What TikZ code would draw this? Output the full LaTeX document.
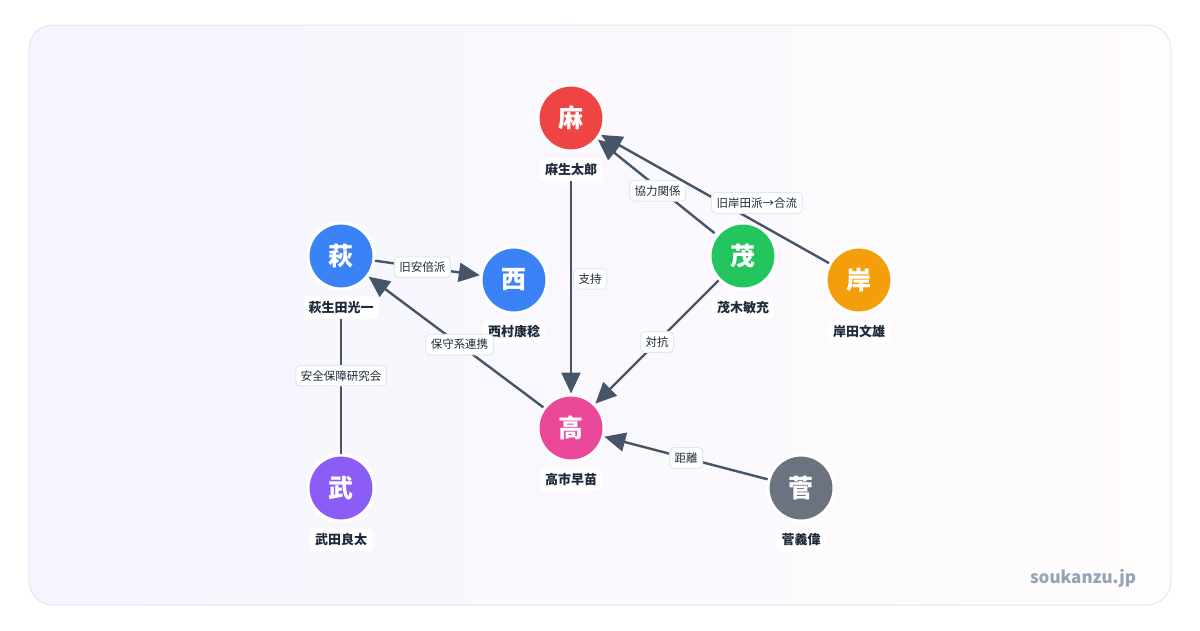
\documentclass[tikz,border=0pt]{standalone}
\usepackage{fontspec}
\setmainfont{Noto Sans CJK JP}
\usepackage{xcolor}
\usetikzlibrary{arrows.meta, positioning, calc, backgrounds}
\definecolor{edgec}{HTML}{475569}
\definecolor{cRed}{HTML}{EF4444}
\definecolor{cBlue}{HTML}{3B82F6}
\definecolor{cGreen}{HTML}{22C55E}
\definecolor{cOrange}{HTML}{F59E0B}
\definecolor{cPink}{HTML}{EC4899}
\definecolor{cPurple}{HTML}{8B5CF6}
\definecolor{cGray}{HTML}{6B7280}
\definecolor{slateB}{HTML}{E2E8F0}
\definecolor{slateT}{HTML}{94A3B8}
\definecolor{inkT}{HTML}{1E293B}
\begin{document}
\begin{tikzpicture}[
    x=1pt, y=-1pt,
    person/.style={circle, draw=white, line width=3pt, minimum size=66pt, inner sep=0pt, text=white, font=\fontsize{25}{27}\selectfont\bfseries},
    pname/.style={fill=white, rounded corners=4pt, inner sep=5pt, font=\fontsize{13}{15}\selectfont\bfseries, text=inkT},
    rel/.style={fill=white, draw=slateB, line width=1pt, rounded corners=4pt, inner sep=5pt, font=\fontsize{11.5}{13}\selectfont, text=inkT},
    arrow/.style={-{Triangle[length=21pt, width=19pt]}, line width=2.4pt, draw=edgec},
    link/.style={line width=2.4pt, draw=edgec}
]
    % background card
    \useasboundingbox (0,0) rectangle (1200,630);
    \fill[white] (0,0) rectangle (1200,630);
    \shade[rounded corners=24pt, left color=blue!4, right color=pink!5] (29,25) rectangle (1171,605);
    \draw[rounded corners=24pt, slateB, line width=1pt] (29,25) rectangle (1171,605);
    \node[font=\fontsize{17}{19}\selectfont\bfseries, text=slateT] (site) at (1083,578) {soukanzu.jp};

    % people
    \node[person, fill=cRed] (aso) at (571,118) {麻};
    \node[person, fill=cBlue] (hagiuda) at (341,256) {萩};
    \node[person, fill=cBlue] (nishimura) at (514,280) {西};
    \node[person, fill=cGreen] (motegi) at (743,256) {茂};
    \node[person, fill=cOrange] (kishida) at (859,280) {岸};
    \node[person, fill=cPink] (takaichi) at (571,428) {高};
    \node[person, fill=cPurple] (takeda) at (341,488) {武};
    \node[person, fill=cGray] (suga) at (801,488) {菅};

    % names
    \node[pname, below=6pt of aso] (aso_n) {麻生太郎};
    \node[pname, below=6pt of hagiuda] (hagiuda_n) {萩生田光一};
    \node[pname, below=6pt of nishimura] (nishimura_n) {西村康稔};
    \node[pname, below=6pt of motegi] (motegi_n) {茂木敏充};
    \node[pname, below=6pt of kishida] (kishida_n) {岸田文雄};
    \node[pname, below=6pt of takaichi] (takaichi_n) {高市早苗};
    \node[pname, below=6pt of takeda] (takeda_n) {武田良太};
    \node[pname, below=6pt of suga] (suga_n) {菅義偉};

    % relations
    \draw[arrow] (aso_n.south) -- (takaichi.north) node[rel, pos=0.46, xshift=19pt] {支持};
    \draw[arrow, shorten <=2pt] (motegi) -- (aso) node[rel, pos=0.46, xshift=-4pt] {協力関係};
    \draw[arrow] (kishida) -- (aso) node[rel, pos=0.36, yshift=14pt, xshift=10pt] {旧岸田派→合流};
    \draw[arrow] (hagiuda) -- (nishimura) node[rel, pos=0.45] {旧安倍派};
    \draw[arrow] (takaichi) -- (hagiuda) node[rel, pos=0.48] {保守系連携};
    \draw[link] (hagiuda_n.south) -- (takeda.north) node[rel, pos=0.42] {安全保障研究会};
    \draw[arrow] (motegi) -- (takaichi) node[rel, pos=0.5] {対抗};
    \draw[arrow] (suga) -- (takaichi) node[rel, pos=0.5] {距離};
\end{tikzpicture}
\end{document}
